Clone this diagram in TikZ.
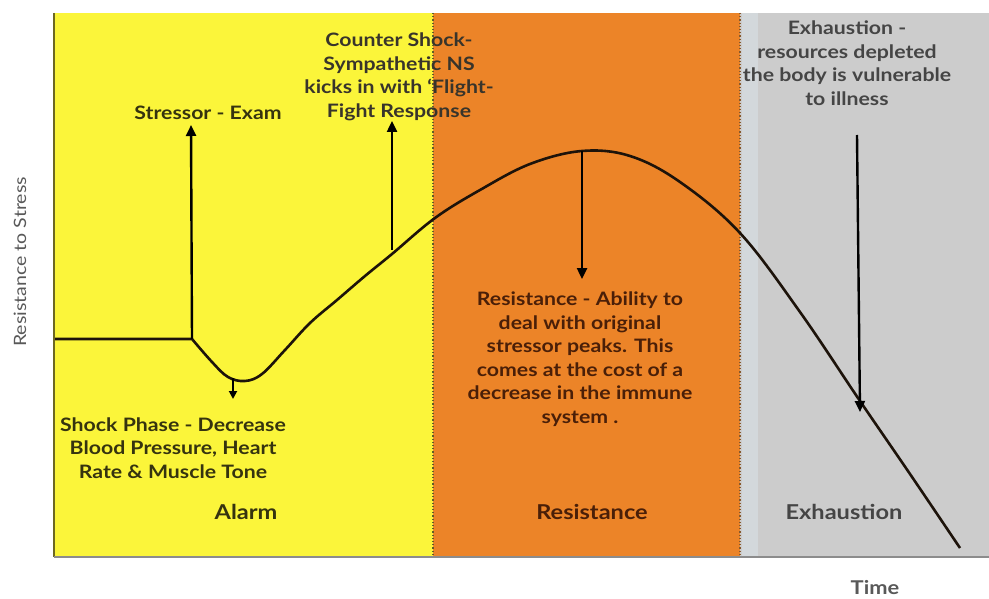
\documentclass[tikz,border=0pt]{standalone}
\usepackage{fontspec}
\setmainfont{Lato}[FakeStretch=1.15]
\usetikzlibrary{arrows.meta}
\definecolor{yel}{HTML}{FBF53A}
\definecolor{org}{HTML}{EC8428}
\definecolor{gry}{HTML}{CCCCCC}
\definecolor{gstrip}{HTML}{D3D8DB}
\definecolor{tyel}{HTML}{35330F}
\definecolor{torg}{HTML}{4A1F08}
\definecolor{tgry}{HTML}{454545}
\begin{document}
\begin{tikzpicture}[x=1pt,y=-1pt,
  lbl/.style={font=\bfseries\fontsize{18.5}{23.5}\selectfont, align=center, inner sep=0pt},
  phase/.style={font=\bfseries\fontsize{20.5}{22}\selectfont, inner sep=0pt},
  axis/.style={font=\fontsize{17}{20}\selectfont, text=black!65, inner sep=0pt},
  arr/.style={line width=2.4pt, -{Triangle[length=11pt,width=10pt]}},
  curve/.style={line width=2.6pt, draw=black!85!brown, line join=round},
  sep/.style={line width=1.2pt, dotted}
]
\useasboundingbox (0,0) rectangle (989,599);
\fill[white] (0,0) rectangle (989,599);
% phase backgrounds
\fill[yel] (54,13) rectangle (433,557);
\fill[org] (433,13) rectangle (740,557);
\fill[gry] (740,13) rectangle (989,557);
\fill[gstrip] (742,13) rectangle (758,557);
\draw[sep, draw=olive!60!black] (433,13) -- (433,557);
\draw[sep, draw=brown!70!black] (740,13) -- (740,557);
\draw[line width=1.6pt, draw=olive!70!black] (54,13) -- (54,557);
\draw[line width=1.2pt, draw=black!45] (54,557) -- (989,557);

% curve
\coordinate (c0) at (55,339);
\coordinate (c1) at (192,339);
\coordinate (dip) at (233,378);
\coordinate (cs) at (392,250);
\coordinate (peak) at (582,151);
\coordinate (ex) at (860,412);
\draw[curve] (c0) -- (c1) plot[smooth, tension=0.6] coordinates {(192,339) (212,362) (228,377) (245,381) (262,374) (285,350) (310,323) (337,300) (365,276) (392,254) (435,218) (480,190) (530,164) (582,151) (630,156) (680,182) (740,233) (800,312) (860,401) (910,474) (960,548)};

% labels
\node[lbl, text=tyel] (stress) at (208,113) {Stressor - Exam};
\node[lbl, text=tyel] (shock) at (173,448) {Shock Phase - Decrease\\Blood Pressure, Heart\\Rate \& Muscle Tone};
\node[lbl, text=black!80!olive] (counter) at (399,77) {Counter Shock-\\Sympathetic NS\\kicks in with ‘Flight-\\Fight Response};
\node[lbl, text=torg] (resist) at (580,359) {Resistance - Ability to\\deal with original\\stressor peaks. This\\comes at the cost of a\\decrease in the immune\\system .};
\node[lbl, text=tgry] (exhaust) at (847,63) {Exhaustion -\\resources depleted\\the body is vulnerable\\to illness};
\node[phase, text=tyel] (alarm) at (246,512) {Alarm};
\node[phase, text=torg] (resph) at (592,512) {Resistance};
\node[phase, text=tgry] (exph) at (844,512) {Exhaustion};
\node[axis, rotate=90] (ylab) at (20,262) {Resistance to Stress};
\node[axis, font=\bfseries\fontsize{19}{20}\selectfont] (xlab) at (875,588) {Time};

% arrows
\coordinate (stip) at (191,125);
\coordinate (shtip) at (233,399);
\coordinate (cstip) at (392,121);
\coordinate (rtip) at (582,279);
\coordinate (etail) at (857,135);
\draw[arr] (c1) -- (stip);
\draw[arr, line width=1.8pt, -{Triangle[length=8pt,width=8pt]}] (dip) -- (shtip);
\draw[arr] (cs) -- (cstip);
\draw[arr] (peak) -- (rtip);
\draw[arr] (etail) -- (ex);
\end{tikzpicture}
\end{document}
